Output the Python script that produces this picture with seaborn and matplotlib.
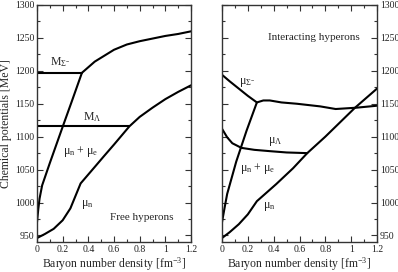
import matplotlib
matplotlib.use("Agg")
import matplotlib.pyplot as plt
import seaborn as sns
from matplotlib.ticker import MultipleLocator

sns.set_theme(style="ticks")
plt.rcParams['font.family'] = ['Liberation Serif', 'DejaVu Serif']
plt.rcParams['mathtext.fontset'] = 'custom'
plt.rcParams['mathtext.rm'] = 'Liberation Serif'
plt.rcParams['mathtext.it'] = 'Liberation Serif:italic'

# ---- left panel: free hyperons ----
free_sigma_mass_x = [0.0, 0.35]
free_sigma_mass_y = [1197, 1197]
free_lambda_mass_x = [0.0, 0.72]
free_lambda_mass_y = [1115.7, 1115.7]
free_mune_x = [0.0, 0.01, 0.02, 0.04, 0.1, 0.2, 0.27, 0.35, 0.45, 0.6, 0.7, 0.8, 0.9, 1.0, 1.1, 1.2]
free_mune_y = [970, 990, 1006, 1026, 1060, 1115, 1153, 1197, 1214, 1232, 1240, 1245, 1249, 1253, 1256, 1260]
free_mun_x = [0.0, 0.06, 0.13, 0.2, 0.26, 0.3, 0.34, 0.45, 0.52, 0.6, 0.72, 0.8, 0.9, 1.0, 1.1, 1.2]
free_mun_y = [946, 952, 960, 973, 991, 1010, 1029, 1054, 1070, 1088, 1115.7, 1130, 1144, 1157, 1168, 1178]

# ---- right panel: interacting hyperons ----
int_musigma_x = [0.0, 0.06, 0.13, 0.2, 0.27, 0.32, 0.37, 0.46, 0.58, 0.76, 0.88, 1.04, 1.2]
int_musigma_y = [1194, 1184, 1173, 1162, 1152, 1155, 1155, 1152, 1150, 1146, 1142, 1144, 1147]
int_mulambda_x = [0.0, 0.04, 0.08, 0.15, 0.25, 0.37, 0.5, 0.66]
int_mulambda_y = [1112, 1099, 1090, 1083, 1080, 1078, 1076, 1075]
int_mune_x = [0.0, 0.02, 0.04, 0.11, 0.19, 0.27]
int_mune_y = [970, 992, 1013, 1062, 1109, 1152]
int_mun_x = [0.0, 0.06, 0.13, 0.2, 0.27, 0.42, 0.55, 0.66, 0.8, 1.03, 1.2]
int_mun_y = [946, 955, 967, 982, 1002, 1028, 1052, 1075, 1100, 1144, 1173]

fig = plt.figure(figsize=(3.98, 2.72), dpi=100)
ax1 = fig.add_axes([37 / 398, 30 / 272, 154 / 398, 237 / 272])
ax2 = fig.add_axes([222 / 398, 30 / 272, 155 / 398, 237 / 272])

lw = 1.5
for xs, ys in [(free_sigma_mass_x, free_sigma_mass_y), (free_lambda_mass_x, free_lambda_mass_y),
               (free_mune_x, free_mune_y), (free_mun_x, free_mun_y)]:
    sns.lineplot(x=xs, y=ys, ax=ax1, color='black', lw=lw, sort=False, estimator=None)
for xs, ys in [(int_musigma_x, int_musigma_y), (int_mulambda_x, int_mulambda_y),
               (int_mune_x, int_mune_y), (int_mun_x, int_mun_y)]:
    sns.lineplot(x=xs, y=ys, ax=ax2, color='black', lw=lw, sort=False, estimator=None)

for ax in (ax1, ax2):
    ax.set_xlim(0, 1.2)
    ax.set_ylim(940, 1300)
    ax.xaxis.set_minor_locator(MultipleLocator(0.1))
    ax.yaxis.set_major_locator(MultipleLocator(50))
    ax.yaxis.set_minor_locator(MultipleLocator(25))
    ax.tick_params(which='both', direction='in', top=True, right=True, left=True,
                   labelsize=7, pad=2, width=0.8, color='#333333', labelcolor='#222222')
    ax.tick_params(which='major', length=4)
    ax.tick_params(which='minor', length=2)
    ax.set_xticks([0, 0.2, 0.4, 0.6, 0.8, 1.0, 1.2])
    ax.set_xticklabels(['0', '0.2', '0.4', '0.6', '0.8', '1', '1.2'])
    for s in ax.spines.values():
        s.set_linewidth(1.0)
        s.set_color('#333333')
    ax.set_xlabel(r'Baryon number density [fm$^{-3}$]', fontsize=8.5, labelpad=1)

ax1.set_ylabel('Chemical potentials [MeV]', fontsize=8.5, labelpad=2)
ax2.yaxis.tick_right()
ax2.tick_params(which='both', left=True, labelleft=False, labelright=True)
ax2.set_ylabel('')

fs = 8.5
ax1.text(0.10, 1214, r'M$_{\Sigma^{-}}$', fontsize=fs, va='center')
ax1.text(0.36, 1130, r'M$_{\Lambda}$', fontsize=fs, va='center')
ax1.text(0.20, 1078, r'μ$_{\rm n}$ + μ$_{\rm e}$', fontsize=fs, va='center')
ax1.text(0.34, 997, r'μ$_{\rm n}$', fontsize=fs, va='center')
ax1.text(0.57, 977, 'Free hyperons', fontsize=8, va='center')

ax2.text(0.36, 1251, 'Interacting hyperons', fontsize=8, va='center')
ax2.text(0.13, 1182, r'μ$_{\Sigma^{-}}$', fontsize=fs, va='center')
ax2.text(0.36, 1092, r'μ$_{\Lambda}$', fontsize=fs, va='center')
ax2.text(0.14, 1051, r'μ$_{\rm n}$ + μ$_{\rm e}$', fontsize=fs, va='center')
ax2.text(0.32, 994, r'μ$_{\rm n}$', fontsize=fs, va='center')

fig.savefig('out.png', dpi=100)
